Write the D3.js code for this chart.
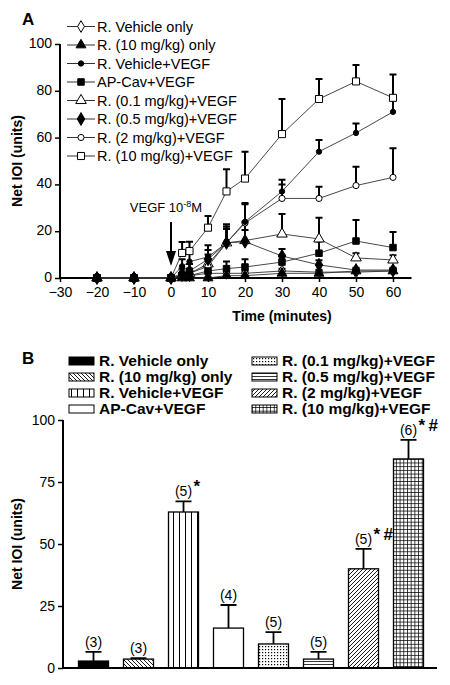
<!DOCTYPE html>
<html><head><meta charset="utf-8">
<script src="https://cdn.jsdelivr.net/npm/d3@7"></script>
<style>
body{margin:0;background:#fff;}
svg{font-family:"Liberation Sans",Arial,sans-serif;}
</style></head>
<body><svg id="chart" width="450" height="685"></svg>
<script>
// ---------- Panel A data ----------
const times = [-20, -10, 0, 3, 5, 10, 15, 20, 30, 40, 50, 60];
const seriesNames = ["R. Vehicle only", "R. (10 mg/kg) only", "R. Vehicle+VEGF", "AP-Cav+VEGF",
  "R. (0.1 mg/kg)+VEGF", "R. (0.5 mg/kg)+VEGF", "R. (2 mg/kg)+VEGF", "R. (10 mg/kg)+VEGF"];
const vehicleOnly      = [0, 0, 0, 1, 1, 2, 2, 2, 3, 2.5, 2.5, 3];
const vehicleOnlyErr   = [0, 0, 0, 1, 1, 1, 1, 1, 1, 1, 1, 1];
const r10Only          = [0, 0, 0, 0, 0, 0, 1, 1, 2, 2, 3, 3];
const r10OnlyErr       = [0, 0, 0, 0.5, 0.5, 0.5, 1, 1, 1, 1, 1, 1];
const vehicleVegf      = [0, 0, 0, 5, 7, 9, 15, 24, 37, 54, 62, 71];
const vehicleVegfErr   = [0, 0, 0, 3, 4, 5, 8, 8, 5, 5, 4, 5];
const apCavVegf        = [0, 0, 0, 1, 1, 3, 4, 4.7, 6.8, 10.6, 15.8, 13];
const apCavVegfErr     = [0, 0, 0, 1, 1, 2, 3, 3.3, 3, 5, 9, 6.7];
const r01Vegf          = [0, 0, 0, 1, 2, 6, 15, 16, 18.8, 16.7, 8.6, 7.7];
const r01VegfErr       = [0, 0, 0, 1, 2, 4, 7, 8, 8.6, 9, 2, 2];
const r05Vegf          = [0, 0, 0, 2, 3, 8, 15, 15.5, 9.4, 5.6, 3.4, 3.4];
const r05VegfErr       = [0, 0, 0, 2, 3, 4, 6, 5, 3, 2, 1, 1];
const r2Vegf           = [0, 0, 0, 1, 2, 5, 15, 23.5, 34, 34, 39.5, 43];
const r2VegfErr        = [0, 0, 0, 1, 2, 3, 6, 8, 6, 5, 8, 12.5];
const r10Vegf          = [0, 0, 0, 10.7, 11.5, 21.5, 37, 42.5, 61.5, 76.5, 84, 77];
const r10VegfErr       = [0, 0, 0, 4.7, 4, 5, 9.5, 11.5, 15, 8.5, 7, 10];
const xTicksA = [-30, -20, -10, 0, 10, 20, 30, 40, 50, 60];
const yTicksA = [0, 20, 40, 60, 80, 100];

// ---------- Panel B data ----------
const barCategories = seriesNames;
const barValues = [2.8, 3.6, 62.9, 16.1, 9.7, 3.6, 40, 84.3];
const barErrors = [3.7, 0.4, 4.3, 9.3, 4.8, 2.9, 8, 7.7];
const barN      = ["(3)", "(3)", "(5)", "(4)", "(5)", "(5)", "(5)", "(6)"];
const barMarks  = ["", "", "*", "", "", "", "*#", "*#"];
const yTicksB = [0, 25, 50, 75, 100];

// ---------- styles ----------
const symbolsA = [
  {type: d3.symbolDiamond, size: 40, fill: "#fff"},
  {type: d3.symbolTriangle, size: 42, fill: "#000"},
  {type: d3.symbolCircle, size: 22, fill: "#000"},
  {type: d3.symbolSquare, size: 42, fill: "#000"},
  {type: d3.symbolTriangle, size: 48, fill: "#fff"},
  {type: d3.symbolDiamond, size: 48, fill: "#000"},
  {type: d3.symbolCircle, size: 30, fill: "#fff"},
  {type: d3.symbolSquare, size: 50, fill: "#fff"}
];
const patternsB = ["solid", "back", "vline", "none", "dots", "hline", "slash", "grid"];

const svg = d3.select("#chart");

// ---------- Panel A ----------
const seriesA = [
  [vehicleOnly, vehicleOnlyErr], [r10Only, r10OnlyErr], [vehicleVegf, vehicleVegfErr],
  [apCavVegf, apCavVegfErr], [r01Vegf, r01VegfErr], [r05Vegf, r05VegfErr],
  [r2Vegf, r2VegfErr], [r10Vegf, r10VegfErr]
].map((s, i) => ({name: seriesNames[i], sym: symbolsA[i],
  pts: times.map((t, j) => ({t: t, v: s[0][j], e: s[1][j]}))}));

const xA = d3.scaleLinear().domain([-30, 65]).range([60, 411.5]);
const yA = d3.scaleLinear().domain([0, 100]).range([278, 44]);
const gA = svg.append("g");

// axes
const xAxisA = d3.axisBottom(xA).tickValues(xTicksA).tickSize(4).tickPadding(5).tickFormat(d3.format("d"));
const yAxisA = d3.axisLeft(yA).tickValues(yTicksA).tickSize(5).tickPadding(3);
const gxA = gA.append("g").attr("transform", `translate(0,${yA(0)})`).call(xAxisA);
const gyA = gA.append("g").attr("transform", `translate(${xA(-30)},0)`).call(yAxisA);
[gxA, gyA].forEach(g => {
  g.select(".domain").attr("stroke", "#000").attr("stroke-width", 2);
  g.selectAll(".tick line").attr("stroke", "#000").attr("stroke-width", 1.5);
  g.selectAll(".tick text").attr("font-size", 14).attr("fill", "#000").attr("font-family", "Liberation Sans, Arial");
});
gxA.select(".domain").attr("d", `M${xA(-30)},0H${xA(65)}`);
gyA.select(".domain").attr("d", `M0,${yA(100)}V${yA(0)}`);
gyA.selectAll(".tick text").attr("dy", "0.25em");

gA.append("text").attr("x", xA(30)).attr("y", 321).attr("text-anchor", "middle")
  .attr("font-size", 14).attr("font-weight", "bold").text("Time (minutes)");
gA.append("text").attr("transform", `translate(22,${yA(50)}) rotate(-90)`).attr("text-anchor", "middle")
  .attr("font-size", 14).attr("font-weight", "bold").text("Net IOI (units)");
gA.append("text").attr("x", 22).attr("y", 25).attr("font-size", 17).attr("font-weight", "bold").text("A");

// error bars
seriesA.forEach(s => {
  s.pts.filter(p => p.e > 0).forEach(p => {
    const x = xA(p.t), y0 = yA(p.v), y1 = yA(p.v + p.e);
    gA.append("path").attr("d", `M${x},${y0}V${y1}M${x - 3.5},${y1}H${x + 3.5}`)
      .attr("stroke", "#000").attr("stroke-width", 2).attr("fill", "none");
  });
});
// lines
const lineA = d3.line().x(p => xA(p.t)).y(p => yA(p.v));
seriesA.forEach(s => {
  gA.append("path").attr("d", lineA(s.pts)).attr("fill", "none").attr("stroke", "#333").attr("stroke-width", 0.9);
});
// markers: open ones first, filled ones on top
const drawOrder = seriesA.filter(s => s.sym.fill === "#fff").concat(seriesA.filter(s => s.sym.fill !== "#fff"));
drawOrder.forEach(s => {
  const sym = d3.symbol().type(s.sym.type).size(s.sym.size);
  gA.selectAll(null).data(s.pts).enter().append("path")
    .attr("transform", p => `translate(${xA(p.t)},${yA(p.v)})`)
    .attr("d", sym).attr("fill", s.sym.fill).attr("stroke", "#000").attr("stroke-width", 1);
});
// arrow annotation
const ax = xA(0);
gA.append("line").attr("x1", ax).attr("x2", ax).attr("y1", 222).attr("y2", 254).attr("stroke", "#000").attr("stroke-width", 2);
gA.append("path").attr("d", `M${ax - 5},${251}L${ax + 5},${251}L${ax},${266}Z`).attr("fill", "#000");
const vt = gA.append("text").attr("x", ax - 5).attr("y", 212).attr("text-anchor", "middle").attr("font-size", 13);
vt.append("tspan").text("VEGF 10");
vt.append("tspan").attr("dy", -5).attr("font-size", 9).text("-8");
vt.append("tspan").attr("dy", 5).text("M");

// legend A
const legA = gA.append("g");
seriesA.forEach((s, i) => {
  const y = 26.5 + i * 18.5;
  legA.append("rect").attr("x", 62).attr("y", y - 8).attr("width", 150).attr("height", 16).attr("fill", "#fff");
  legA.append("line").attr("x1", 67).attr("x2", 95).attr("y1", y).attr("y2", y).attr("stroke", "#333").attr("stroke-width", 1);
  legA.append("path").attr("transform", `translate(81,${y})`)
    .attr("d", d3.symbol().type(s.sym.type).size(s.sym.size)).attr("fill", s.sym.fill).attr("stroke", "#000");
  legA.append("text").attr("x", 97).attr("y", y + 5).attr("font-size", 14.5).text(s.name);
});

// ---------- Panel B ----------
const defs = svg.append("defs");
function pat(id, w, h, draw) {
  const p = defs.append("pattern").attr("id", id).attr("patternUnits", "userSpaceOnUse").attr("width", w).attr("height", h);
  p.append("rect").attr("width", w).attr("height", h).attr("fill", "#fff");
  draw(p);
}
pat("back", 4, 4, p => p.append("path").attr("d", "M-1,-1L5,5M-1,3L1,5M3,-1L5,1").attr("stroke", "#000").attr("stroke-width", 0.9));
pat("slash", 4, 4, p => p.append("path").attr("d", "M-1,5L5,-1M-1,1L1,-1M3,5L5,3").attr("stroke", "#000").attr("stroke-width", 0.9));
pat("vline", 6, 6, p => p.append("path").attr("d", "M5.5,0V6").attr("stroke", "#000").attr("stroke-width", 1));
pat("hline", 3, 3, p => p.append("path").attr("d", "M0,1.5H3").attr("stroke", "#000").attr("stroke-width", 0.8));
pat("dots", 3, 3, p => p.append("rect").attr("x", 1).attr("y", 1).attr("width", 1.2).attr("height", 1.2).attr("fill", "#000"));
pat("grid", 3.7, 3.7, p => p.append("path").attr("d", "M0,0.4H3.7M0.4,0V3.7").attr("stroke", "#000").attr("stroke-width", 0.8));
const fillFor = k => k === "solid" ? "#000" : k === "none" ? "#fff" : `url(#${k})`;

const xB = d3.scaleBand().domain(barCategories).range([71, 431]).paddingInner(1 / 3).paddingOuter(1 / 6);
const yB = d3.scaleLinear().domain([0, 100]).range([668, 420]);
const gB = svg.append("g");

const yAxisB = d3.axisLeft(yB).tickValues(yTicksB).tickSize(5).tickPadding(3);
const gyB = gB.append("g").attr("transform", "translate(63,0)").call(yAxisB);
gyB.select(".domain").attr("d", `M0,${yB(100)}V${yB(0)}`).attr("stroke", "#000").attr("stroke-width", 2);
gyB.selectAll(".tick line").attr("stroke", "#000").attr("stroke-width", 1.5);
gyB.selectAll(".tick text").attr("font-size", 14).attr("fill", "#000").attr("font-family", "Liberation Sans, Arial");

gB.append("text").attr("transform", `translate(22,${yB(50)}) rotate(-90)`).attr("text-anchor", "middle")
  .attr("font-size", 14).attr("font-weight", "bold").text("Net IOI (units)");
gB.append("text").attr("x", 22).attr("y", 364).attr("font-size", 17).attr("font-weight", "bold").text("B");

// bars
barCategories.forEach((c, i) => {
  const x = xB(c), w = xB.bandwidth(), v = barValues[i], e = barErrors[i];
  const cx = x + w / 2, yt = yB(v + e);
  gB.append("path").attr("d", `M${cx},${yB(v)}V${yt}M${cx - 8},${yt}H${cx + 8}`).attr("stroke", "#000").attr("stroke-width", 1.8);
  gB.append("rect").attr("x", x).attr("y", yB(v)).attr("width", w).attr("height", yB(0) - yB(v))
    .attr("fill", fillFor(patternsB[i])).attr("stroke", "#000").attr("stroke-width", 1.3);
  gB.append("text").attr("x", cx).attr("y", yt - 5).attr("text-anchor", "middle").attr("font-size", 14).text(barN[i]);
  if (barMarks[i]) {
    gB.append("text").attr("x", cx + 10).attr("y", yt - 9).attr("font-size", 17).attr("font-weight", "bold")
      .text(barMarks[i].replace("*", "*\u2009"));
  }
});
// x axis B
gB.append("line").attr("x1", 63).attr("x2", 437).attr("y1", yB(0)).attr("y2", yB(0)).attr("stroke", "#000").attr("stroke-width", 2);

// legend B
const legB = gB.append("g");
barCategories.forEach((c, i) => {
  const col = i < 4 ? 0 : 1, row = i % 4;
  const sx = col === 0 ? 69 : 252, tx = col === 0 ? 99 : 282, y = 361 + row * 16;
  legB.append("rect").attr("x", sx).attr("y", y - 4).attr("width", 25).attr("height", 8)
    .attr("fill", fillFor(patternsB[i])).attr("stroke", "#000").attr("stroke-width", 1);
  legB.append("text").attr("x", tx).attr("y", y + 5).attr("font-size", 15.5).attr("font-weight", "bold").text(c);
});
</script></body></html>
